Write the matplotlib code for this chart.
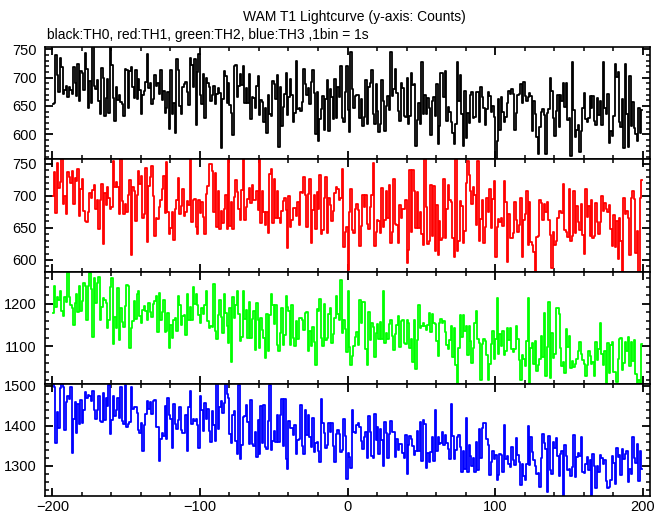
import numpy as np
import matplotlib
matplotlib.use("Agg")
import matplotlib.pyplot as plt
from matplotlib.ticker import MultipleLocator

# time bins (1 s each), -200 .. 199
time_start = -200
n_bins = 400

th0 = [
    654, 655, 740, 705, 675, 734, 719, 672, 678, 686, 666, 683, 678, 672, 719, 690, 668, 724, 659, 711, 709, 679, 743, 715, 646,
    694, 656, 755, 685, 680, 695, 659, 636, 717, 700, 633, 664, 698, 638, 776, 722, 664, 623, 684, 661, 670, 657, 653, 633, 715,
    714, 646, 712, 718, 683, 664, 714, 662, 698, 679, 636, 670, 676, 692, 741, 682, 690, 654, 663, 704, 685, 691, 672, 713, 660,
    677, 637, 646, 674, 610, 713, 635, 656, 603, 732, 714, 650, 635, 684, 688, 693, 675, 651, 735, 723, 683, 732, 616, 710, 742,
    669, 653, 706, 629, 700, 691, 684, 658, 669, 686, 653, 672, 681, 673, 575, 662, 711, 703, 656, 690, 652, 637, 599, 721, 723,
    666, 685, 706, 687, 721, 655, 681, 655, 707, 627, 666, 664, 647, 685, 703, 634, 660, 657, 621, 647, 602, 670, 635, 633, 694,
    689, 662, 704, 577, 683, 614, 648, 672, 709, 634, 665, 698, 669, 621, 637, 730, 645, 646, 642, 657, 715, 688, 670, 681, 653,
    692, 714, 673, 601, 674, 588, 627, 644, 667, 608, 662, 696, 605, 680, 666, 627, 698, 628, 683, 665, 720, 629, 622, 674, 720,
    643, 604, 745, 680, 646, 667, 669, 669, 629, 663, 614, 631, 696, 618, 683, 691, 713, 636, 618, 689, 641, 604, 618, 695, 658,
    606, 650, 668, 643, 746, 668, 680, 715, 673, 641, 624, 691, 681, 633, 630, 700, 618, 633, 709, 687, 689, 580, 625, 655, 618,
    728, 635, 669, 635, 664, 646, 599, 658, 666, 632, 688, 583, 615, 708, 708, 665, 711, 624, 649, 639, 621, 602, 583, 619, 728,
    659, 705, 636, 580, 676, 593, 638, 620, 670, 675, 628, 630, 675, 674, 622, 683, 666, 647, 617, 645, 675, 668, 639, 650, 631,
    555, 589, 663, 607, 666, 640, 621, 630, 655, 677, 672, 680, 672, 608, 637, 670, 672, 689, 655, 693, 668, 658, 666, 673, 667,
    605, 659, 635, 595, 565, 613, 640, 644, 634, 565, 637, 645, 700, 676, 628, 597, 641, 670, 613, 670, 659, 691, 649, 691, 626,
    629, 561, 727, 643, 595, 608, 616, 568, 606, 647, 673, 627, 621, 628, 668, 646, 668, 623, 616, 664, 634, 658, 617, 727, 647,
    635, 671, 584, 605, 597, 633, 724, 701, 710, 621, 613, 662, 575, 724, 635, 578, 703, 615, 657, 612, 600, 588, 647, 602, 643,
]

th1 = [
    699, 737, 673, 751, 712, 721, 764, 688, 699, 671, 737, 729, 720, 739, 687, 728, 723, 742, 668, 711, 727, 676, 661, 659, 674,
    705, 697, 709, 717, 680, 694, 648, 694, 719, 625, 705, 685, 713, 697, 679, 682, 754, 714, 721, 713, 671, 757, 692, 672, 688,
    674, 701, 725, 607, 713, 707, 660, 702, 739, 718, 731, 665, 672, 743, 628, 716, 729, 747, 699, 638, 666, 664, 682, 693, 710,
    731, 673, 753, 674, 641, 650, 675, 631, 679, 694, 728, 672, 684, 710, 669, 675, 692, 685, 757, 659, 693, 695, 652, 641, 693,
    673, 690, 667, 640, 703, 715, 749, 749, 738, 675, 736, 652, 708, 648, 677, 658, 679, 702, 648, 759, 653, 690, 648, 698, 724,
    706, 680, 662, 709, 776, 662, 683, 695, 712, 689, 717, 694, 693, 708, 678, 762, 657, 708, 675, 654, 674, 642, 734, 742, 657,
    726, 665, 708, 665, 658, 676, 692, 697, 678, 619, 700, 652, 663, 681, 681, 668, 691, 654, 706, 705, 730, 702, 652, 703, 726,
    626, 678, 702, 649, 706, 679, 732, 641, 646, 696, 729, 642, 696, 686, 661, 677, 705, 713, 710, 693, 696, 742, 620, 644, 652,
    585, 675, 711, 646, 642, 679, 687, 678, 622, 653, 702, 683, 702, 656, 649, 682, 702, 751, 622, 644, 662, 661, 642, 712, 652,
    662, 707, 665, 717, 627, 643, 727, 656, 655, 627, 685, 666, 680, 679, 694, 595, 615, 740, 643, 740, 707, 650, 706, 650, 674,
    641, 623, 757, 682, 625, 629, 717, 637, 715, 614, 685, 608, 660, 631, 635, 726, 635, 680, 717, 694, 691, 634, 604, 757, 614,
    629, 692, 684, 626, 645, 720, 754, 733, 708, 687, 714, 701, 654, 754, 629, 664, 693, 627, 651, 696, 675, 710, 650, 695, 723,
    604, 652, 664, 659, 665, 653, 723, 690, 597, 672, 634, 635, 642, 690, 662, 643, 654, 696, 604, 663, 672, 708, 623, 691, 628,
    623, 612, 566, 636, 637, 693, 689, 663, 688, 674, 691, 663, 639, 587, 644, 624, 630, 666, 677, 677, 673, 719, 647, 643, 636,
    711, 630, 637, 708, 642, 684, 659, 647, 688, 639, 610, 711, 667, 684, 638, 694, 634, 637, 689, 659, 641, 659, 700, 677, 689,
    680, 674, 686, 649, 622, 670, 620, 661, 601, 665, 630, 559, 697, 671, 677, 665, 607, 697, 708, 695, 611, 645, 580, 697, 725,
]

th2 = [
    1179, 1242, 1193, 1216, 1209, 1231, 1182, 1171, 1215, 1205, 1276, 1217, 1198, 1191, 1150, 1201, 1224, 1181, 1243, 1183, 1206, 1248, 1241, 1162, 1243,
    1272, 1234, 1122, 1261, 1202, 1250, 1264, 1163, 1192, 1214, 1208, 1203, 1144, 1162, 1239, 1261, 1106, 1169, 1144, 1238, 1114, 1191, 1157, 1146, 1195,
    1245, 1243, 1097, 1142, 1160, 1206, 1165, 1222, 1231, 1172, 1156, 1186, 1195, 1184, 1162, 1201, 1181, 1168, 1199, 1207, 1218, 1133, 1225, 1162, 1181,
    1208, 1134, 1137, 1179, 1097, 1151, 1120, 1163, 1167, 1136, 1218, 1197, 1151, 1172, 1174, 1127, 1223, 1161, 1192, 1161, 1240, 1199, 1222, 1197, 1174,
    1155, 1189, 1176, 1197, 1229, 1160, 1142, 1147, 1146, 1247, 1136, 1117, 1174, 1209, 1170, 1132, 1223, 1178, 1149, 1108, 1191, 1064, 1216, 1166, 1198,
    1230, 1175, 1112, 1121, 1230, 1164, 1186, 1120, 1204, 1119, 1165, 1182, 1092, 1201, 1161, 1096, 1167, 1139, 1119, 1072, 1175, 1088, 1174, 1223, 1197,
    1153, 1197, 1104, 1088, 1132, 1190, 1104, 1126, 1219, 1192, 1183, 1104, 1198, 1120, 1100, 1159, 1118, 1166, 1166, 1163, 1138, 1179, 1181, 1088, 1135,
    1101, 1146, 1110, 1056, 1187, 1184, 1211, 1119, 1101, 1200, 1116, 1119, 1177, 1189, 1109, 1129, 1167, 1218, 1176, 1161, 1255, 1131, 1161, 1140, 1087,
    1230, 1098, 1055, 1078, 1101, 1122, 1134, 1104, 1209, 1154, 1205, 1205, 1094, 1055, 1181, 1114, 1155, 1145, 1074, 1131, 1152, 1118, 1158, 1118, 1230,
    1108, 1131, 1118, 1153, 1161, 1125, 1092, 1128, 1150, 1171, 1098, 1160, 1161, 1107, 1105, 1161, 1155, 1095, 1117, 1063, 1162, 1047, 1114, 1197, 1142,
    1148, 1156, 1147, 1138, 1150, 1179, 1134, 1175, 1154, 1152, 1112, 1078, 1154, 1164, 1154, 1160, 1134, 1104, 1093, 1116, 1147, 1076, 1144, 1055, 1014,
    1095, 1173, 1123, 1173, 1135, 1148, 1079, 1148, 1113, 1060, 1097, 1155, 1184, 1118, 1108, 1022, 1105, 1117, 1112, 1079, 1022, 1058, 1106, 1135, 1070,
    1117, 1213, 1081, 1130, 1101, 1137, 1080, 1088, 1142, 1116, 1142, 1094, 1086, 1093, 1148, 1117, 1068, 1022, 1080, 1070, 1054, 1112, 1213, 1014, 1095,
    1108, 1059, 1113, 1042, 1056, 1071, 1125, 1074, 1179, 1030, 1098, 1205, 1026, 1131, 1072, 1081, 1189, 1190, 1176, 1096, 1053, 1062, 1037, 1141, 1098,
    1125, 1050, 1065, 1051, 1059, 1070, 1088, 1110, 1081, 1068, 1058, 1031, 1056, 1090, 1078, 1059, 1064, 1031, 1111, 1069, 1094, 1155, 1082, 1057, 1088,
    1005, 1108, 1037, 1103, 1111, 1040, 1040, 1016, 1070, 1117, 1120, 1044, 1060, 1110, 1090, 1123, 1054, 1110, 1066, 1114, 1036, 1005, 1020, 989, 1105,
]

th3 = [
    1532, 1497, 1357, 1435, 1394, 1495, 1511, 1497, 1389, 1459, 1474, 1466, 1497, 1332, 1417, 1459, 1383, 1454, 1405, 1465, 1408, 1440, 1484, 1470, 1477,
    1475, 1461, 1488, 1439, 1418, 1439, 1475, 1413, 1409, 1482, 1414, 1469, 1449, 1502, 1380, 1415, 1474, 1425, 1439, 1469, 1419, 1498, 1413, 1405, 1502,
    1397, 1405, 1410, 1496, 1441, 1446, 1446, 1433, 1390, 1383, 1407, 1338, 1401, 1429, 1463, 1443, 1459, 1429, 1461, 1465, 1398, 1397, 1313, 1368, 1381,
    1374, 1449, 1368, 1469, 1426, 1416, 1345, 1455, 1405, 1392, 1414, 1448, 1390, 1382, 1381, 1426, 1337, 1448, 1487, 1404, 1418, 1411, 1417, 1402, 1345,
    1474, 1440, 1386, 1458, 1416, 1441, 1387, 1359, 1438, 1403, 1361, 1511, 1391, 1447, 1463, 1431, 1456, 1511, 1480, 1470, 1380, 1357, 1427, 1437, 1361,
    1329, 1501, 1318, 1353, 1422, 1425, 1453, 1409, 1355, 1464, 1355, 1350, 1385, 1322, 1415, 1329, 1450, 1357, 1453, 1347, 1342, 1411, 1501, 1340, 1362,
    1388, 1359, 1426, 1359, 1427, 1466, 1350, 1466, 1317, 1293, 1412, 1394, 1395, 1378, 1401, 1331, 1365, 1366, 1451, 1350, 1331, 1439, 1377, 1427, 1373,
    1347, 1419, 1335, 1358, 1359, 1338, 1311, 1467, 1407, 1383, 1344, 1352, 1407, 1385, 1407, 1349, 1311, 1379, 1389, 1380, 1335, 1340, 1418, 1375, 1267,
    1333, 1323, 1294, 1440, 1385, 1382, 1402, 1406, 1396, 1363, 1343, 1373, 1385, 1321, 1425, 1385, 1325, 1319, 1429, 1365, 1397, 1329, 1393, 1364, 1301,
    1409, 1381, 1320, 1380, 1413, 1384, 1385, 1322, 1367, 1339, 1355, 1355, 1333, 1320, 1378, 1281, 1351, 1374, 1368, 1349, 1327, 1336, 1387, 1336, 1409,
    1312, 1414, 1404, 1294, 1333, 1309, 1334, 1373, 1312, 1439, 1337, 1373, 1355, 1357, 1384, 1351, 1378, 1358, 1343, 1318, 1455, 1375, 1318, 1340, 1371,
    1378, 1347, 1286, 1337, 1293, 1419, 1286, 1351, 1324, 1299, 1321, 1286, 1359, 1291, 1392, 1319, 1394, 1408, 1408, 1367, 1353, 1277, 1309, 1337, 1317,
    1327, 1264, 1277, 1329, 1327, 1286, 1403, 1317, 1326, 1305, 1298, 1347, 1316, 1302, 1369, 1328, 1310, 1253, 1305, 1275, 1264, 1304, 1399, 1303, 1372,
    1335, 1314, 1301, 1279, 1282, 1248, 1321, 1379, 1357, 1342, 1236, 1374, 1289, 1281, 1360, 1344, 1370, 1325, 1275, 1331, 1338, 1211, 1353, 1324, 1291,
    1293, 1274, 1298, 1376, 1273, 1323, 1333, 1325, 1373, 1286, 1283, 1304, 1323, 1290, 1314, 1218, 1331, 1301, 1245, 1301, 1284, 1328, 1319, 1304, 1314,
    1263, 1245, 1247, 1265, 1326, 1307, 1256, 1344, 1322, 1328, 1278, 1341, 1318, 1329, 1338, 1259, 1293, 1280, 1371, 1319, 1308, 1355, 1262, 1338, 1293,
]

series = [th0, th1, th2, th3]
colors = ["black", "#ff0000", "#00ff00", "#0000ff"]
ylims = [(556, 754), (582, 757), (1012, 1276), (1225, 1505)]
ymajor = [50, 50, 100, 100]
yminor = [10, 10, 20, 20]

plt.rcParams["font.family"] = ["Liberation Sans", "DejaVu Sans"]

t = np.arange(time_start, time_start + n_bins) + 0.5

fig, axes = plt.subplots(4, 1, figsize=(6.69, 5.15), dpi=100, sharex=True)
fig.subplots_adjust(left=0.0673, right=0.9716, top=0.9087, bottom=0.0369, hspace=0)

for ax, y, c, yl, ma, mi in zip(axes, series, colors, ylims, ymajor, yminor):
    ax.plot(t, y, drawstyle="steps-mid", color=c, lw=1.3)
    ax.set_xlim(-205, 205)
    ax.set_ylim(*yl)
    ax.xaxis.set_major_locator(MultipleLocator(100))
    ax.xaxis.set_minor_locator(MultipleLocator(20))
    ax.yaxis.set_major_locator(MultipleLocator(ma))
    ax.yaxis.set_minor_locator(MultipleLocator(mi))
    ax.tick_params(which="both", direction="in", top=True, right=True,
                   labelsize=10.5, pad=6)
    ax.tick_params(which="major", length=5.5, width=1.3)
    ax.tick_params(which="minor", length=3, width=1.1)
    for s in ax.spines.values():
        s.set_linewidth(1.2)

axes[-1].tick_params(axis="x", pad=3)

fig.text(0.529, 0.967, "WAM T1 Lightcurve (y-axis: Counts)", ha="center", va="center",
         fontsize=10)
fig.text(0.070, 0.932, "black:TH0, red:TH1, green:TH2, blue:TH3 ,1bin = 1s", ha="left",
         va="center", fontsize=10)

fig.savefig("out.png", dpi=100)
